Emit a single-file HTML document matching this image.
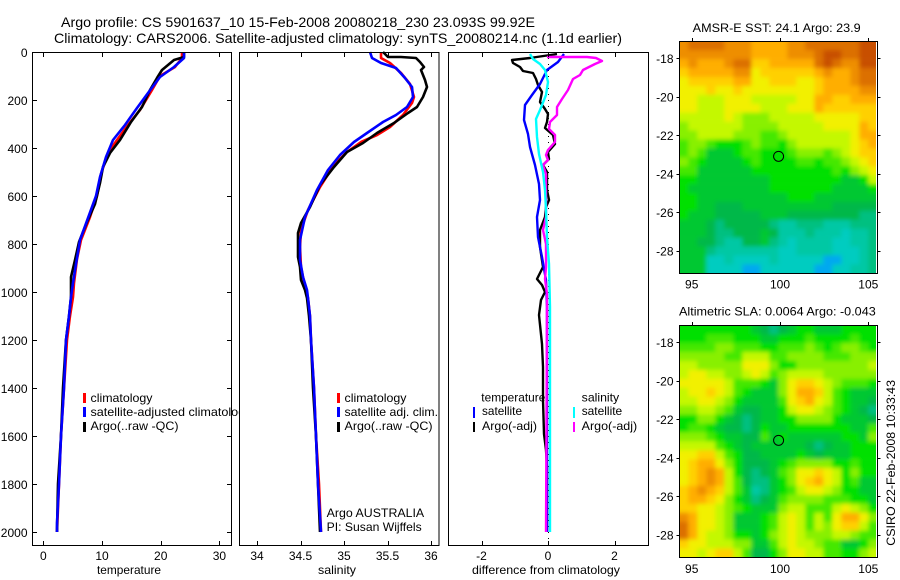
<!DOCTYPE html>
<html lang="en">
<head>
<meta charset="utf-8">
<title>Argo profile 5901637_10</title>
<style>
html,body{margin:0;padding:0;background:#fff;}
svg{display:block;font-family:"Liberation Sans",Arial,sans-serif;font-size:12px;fill:#000;}
text{fill:#000;}
</style>
</head>
<body>
<svg id="chart" xmlns="http://www.w3.org/2000/svg" width="900" height="580" viewBox="0 0 900 580">
  <defs>
    <filter id="soft" x="-5%" y="-5%" width="110%" height="110%"><feGaussianBlur stdDeviation="2.2"/></filter>
    <clipPath id="clip-sst"><rect x="679.5" y="41.5" width="196.5" height="231.5"/></clipPath>
    <clipPath id="clip-sla"><rect x="679.5" y="325.5" width="196.5" height="231.5"/></clipPath>
  </defs>
  <rect width="900" height="580" fill="#fff"/>

  <text x="61" y="27" font-size="14" textLength="474" lengthAdjust="spacingAndGlyphs">Argo profile: CS 5901637_10 15-Feb-2008 20080218_230 23.093S 99.92E</text>
  <text x="54" y="43" font-size="14" textLength="568" lengthAdjust="spacingAndGlyphs">Climatology: CARS2006. Satellite-adjusted climatology: synTS_20080214.nc (1.1d earlier)</text>

  <g id="panel-temp">
    <rect x="32.5" y="52.5" width="199" height="493" fill="#fff" stroke="none"/>
    <g id="temp-marks"></g>
    <rect x="83" y="393" width="3" height="10" fill="#f00"/>
    <rect x="83" y="407" width="3" height="10" fill="#00f"/>
    <rect x="83" y="422" width="3" height="10" fill="#000"/>
    <text x="90.5" y="402" textLength="62" lengthAdjust="spacingAndGlyphs">climatology</text>
    <text x="90.5" y="416" textLength="161" lengthAdjust="spacingAndGlyphs">satellite-adjusted climatology</text>
    <text x="90.5" y="430" textLength="88" lengthAdjust="spacingAndGlyphs">Argo(..raw -QC)</text>
    <rect x="32.5" y="52.5" width="199" height="493" fill="none" stroke="#000" shape-rendering="crispEdges"/>
    <text x="129" y="574" text-anchor="middle" textLength="64" lengthAdjust="spacingAndGlyphs">temperature</text>
  </g>

  <g id="panel-sal">
    <rect x="239" y="46" width="209" height="500" fill="#fff"/>
    <g id="sal-marks"></g>
    <rect x="337" y="393" width="3" height="10" fill="#f00"/>
    <rect x="337" y="407" width="3" height="10" fill="#00f"/>
    <rect x="337" y="422" width="3" height="10" fill="#000"/>
    <text x="344.5" y="402" textLength="62" lengthAdjust="spacingAndGlyphs">climatology</text>
    <text x="344.5" y="416" textLength="93.5" lengthAdjust="spacingAndGlyphs">satellite adj. clim.</text>
    <text x="344.5" y="430" textLength="88" lengthAdjust="spacingAndGlyphs">Argo(..raw -QC)</text>
    <text x="326.7" y="517" textLength="97.5" lengthAdjust="spacingAndGlyphs">Argo AUSTRALIA</text>
    <text x="326.7" y="531" textLength="95" lengthAdjust="spacingAndGlyphs">PI: Susan Wijffels</text>
    <rect x="239.5" y="52.5" width="199.5" height="493" fill="none" stroke="#000" shape-rendering="crispEdges"/>
    <text x="337" y="574" text-anchor="middle" textLength="38" lengthAdjust="spacingAndGlyphs">salinity</text>
  </g>

  <g id="panel-diff">
    <g id="diff-marks"></g>
    <text x="481.3" y="401.7" textLength="64" lengthAdjust="spacingAndGlyphs">temperature</text>
    <text x="482" y="415" textLength="40" lengthAdjust="spacingAndGlyphs">satellite</text>
    <text x="482" y="430" textLength="55" lengthAdjust="spacingAndGlyphs">Argo(-adj)</text>
    <rect x="473" y="407" width="2" height="11" fill="#00f"/>
    <rect x="473" y="422" width="2" height="10" fill="#000"/>
    <text x="581.7" y="401.7" textLength="37.5" lengthAdjust="spacingAndGlyphs">salinity</text>
    <text x="581.7" y="415" textLength="40.5" lengthAdjust="spacingAndGlyphs">satellite</text>
    <text x="581.7" y="430" textLength="55.5" lengthAdjust="spacingAndGlyphs">Argo(-adj)</text>
    <rect x="573" y="407" width="2" height="11" fill="#0ff"/>
    <rect x="573" y="422" width="2" height="10" fill="#f0f"/>
    <rect x="448.5" y="52.5" width="200" height="493" fill="none" stroke="#000" shape-rendering="crispEdges"/>
    <text x="546" y="574" text-anchor="middle" textLength="148" lengthAdjust="spacingAndGlyphs">difference from climatology</text>
  </g>

  <text x="692.7" y="32" textLength="168" lengthAdjust="spacingAndGlyphs">AMSR-E SST: 24.1 Argo: 23.9</text>
  <g clip-path="url(#clip-sst)"><g id="sst-cells" filter="url(#soft)"></g></g>
  <g id="sst-axes"></g>

  <text x="679" y="315.7" textLength="196.7" lengthAdjust="spacingAndGlyphs">Altimetric SLA: 0.0064 Argo: -0.043</text>
  <g clip-path="url(#clip-sla)"><g id="sla-cells" filter="url(#soft)"></g></g>
  <g id="sla-axes"></g>

  <text transform="translate(895,545.7) rotate(-90)" textLength="165.7" lengthAdjust="spacingAndGlyphs">CSIRO 22-Feb-2008 10:33:43</text>
</svg>

<script>
// ---- tick labels ----
const depthTicks = [0,200,400,600,800,1000,1200,1400,1600,1800,2000];
const tempTicks = [0,10,20,30];
const salTicks = [34,34.5,35,35.5,36];
const diffTicks = [-2,0,2];
const lonTicks = [95,100,105];
const latTicks = [18,20,22,24,26,28];

// ---- temperature profiles ----
const tempClimDepth = [0,25,60,100,157,240,303,365,420,505,600,685,780,860,960,1020,1100,1200,1400,1600,1800,2000];
const tempClimValues = [23.7,23.7,22.4,19.9,18.5,16.5,14.5,12.5,11.1,9.9,9.1,8,6.5,5.7,5.2,5,4.5,4,3.6,3.1,2.7,2.4];
const tempArgoDepth = [0,20,30,52,75,108,157,226,290,365,420,476,545,630,705,790,865,935,960,1020,1100,1200,1400,1600,1800,2000];
const tempArgoValues = [24,23.9,22.2,21.3,20.2,19.3,18.2,16.8,15,13,11.4,10.2,9.7,8.8,7.5,6.1,5.4,4.7,4.7,4.7,4.3,3.8,3.4,2.95,2.55,2.3];
const tempSatDepth = [0,25,60,104,170,233,303,365,435,518,600,692,782,880,960,1020,1100,1200,1400,1600,1800,1960,2000];
const tempSatValues = [24,24,22.2,19.8,17.9,15.9,13.9,11.9,10.7,9.7,9,7.7,6.2,5.5,5,4.8,4.4,3.95,3.6,3.07,2.67,2.4,2.3];

// ---- salinity profiles ----
const salClimDepth = [0,25,46,88,130,185,213,261,310,344,372,414,470,560,657,740,810,893,976,1025,1100,1200,1400,1600,1800,2000];
const salClimValues = [35.425,35.43,35.53,35.66,35.76,35.8,35.78,35.68,35.53,35.38,35.2,35.03,34.88,34.72,34.59,34.51,34.49,34.51,34.55,34.59,34.61,34.625,34.65,34.675,34.71,34.73];
const salArgoDepth = [0,20,20,25,39,60,74,115,143,185,226,254,296,337,379,414,476,553,643,712,754,851,893,948,990,1025,1100,1200,1400,1600,1800,2000];
const salArgoValues = [35.45,35.51,35.65,35.83,35.87,35.92,35.89,35.93,35.95,35.91,35.84,35.74,35.57,35.38,35.22,35.03,34.88,34.72,34.61,34.51,34.475,34.475,34.49,34.51,34.55,34.58,34.6,34.62,34.645,34.675,34.7,34.725];
const salSatDepth = [0,25,46,67,108,143,185,226,261,289,337,372,428,490,574,685,782,865,935,990,1025,1100,1200,1400,1600,1800,2000];
const salSatValues = [35.3,35.32,35.43,35.6,35.7,35.78,35.79,35.72,35.6,35.45,35.26,35.11,34.95,34.82,34.69,34.55,34.49,34.49,34.53,34.57,34.59,34.61,34.625,34.65,34.68,34.705,34.73];

// ---- difference profiles ----
const diffTempArgoDepth = [8,22,33,44,61,78,86,110,137,165,207,235,255,290,314,346,380,415,443,471,499,575,617,644,686,742,811,894,943,971,999,1033,1096,1214,1311,1450,1589,1658,1728,2000];
const diffTempArgoValues = [0.26,-0.54,-1.09,-1.06,-0.84,-0.76,-0.44,-0.36,-0.29,-0.19,-0.24,-0.09,0.01,-0.04,-0.09,0.16,0.21,0.01,0.04,-0.16,-0.04,-0.04,0.04,-0.06,-0.09,-0.24,-0.24,-0.14,-0.34,-0.19,-0.09,-0.21,-0.27,-0.19,-0.14,-0.14,-0.11,-0.06,-0.04,-0.04];
const diffTempSatDepth = [5,40,75,130,179,221,283,339,394,471,547,617,686,769,853,950,1061,2000];
const diffTempSatValues = [0.48,0.31,-0.04,-0.24,-0.49,-0.69,-0.72,-0.59,-0.54,-0.39,-0.26,-0.24,-0.34,-0.29,-0.19,-0.06,-0.04,-0.04];
const diffSalArgoDepth = [20,20,24,36,50,75,96,110,158,193,228,262,290,318,346,374,408,429,450,471,506,617,686,742,797,894,943,1006,1061,2000];
const diffSalArgoValues = [-0.02,1.16,1.45,1.63,1.41,1.06,0.96,0.76,0.61,0.41,0.28,0.26,0.06,0.02,0.21,0.21,0.01,-0.06,0.01,-0.14,-0.06,-0.06,-0.06,-0.14,-0.06,-0.06,-0.1,-0.04,-0.04,-0.05];
const diffSalSatDepth = [5,26,47,75,124,179,242,276,353,422,499,575,658,769,881,1061,1100,2000];
const diffSalSatValues = [-0.54,-0.44,-0.24,-0.09,-0.01,-0.06,-0.24,-0.36,-0.32,-0.26,-0.14,-0.09,-0.06,-0.02,0.03,0.06,0.05,0.05];

// ---- colour scale levels for the two maps ----
const levelColors = ['#c85000','#dc7000','#ee8e00','#ffae00','#ffd000','#f2f000','#c4f800','#88f000','#44e800','#00e000','#00c830','#00b848','#00c080','#00c8a4','#00ccc0','#00a8f0'];

// ---- SST map levels, north to south ----
const sstLevels = [
[2,1,1,1,1,2,2,2,3,3,3,3,2,2,1,1,1,1,1,1,0,0],
[2,2,2,2,2,2,2,2,3,3,3,3,2,2,2,1,0,0,1,1,0,0],
[3,2,3,3,3,2,1,1,4,4,3,3,3,3,3,1,0,1,2,2,0,0],
[4,3,3,3,3,3,2,2,5,4,4,4,4,4,4,3,2,3,3,2,1,1],
[5,4,4,4,4,4,3,3,5,5,4,4,4,5,5,4,3,3,3,2,1,1],
[5,5,5,4,5,5,4,5,5,5,5,5,5,5,5,4,3,3,3,3,2,2],
[5,5,6,6,6,5,5,5,6,6,6,6,6,5,5,3,3,4,4,3,3,3],
[5,5,6,6,6,5,5,5,5,6,6,6,5,5,5,3,4,4,4,4,4,4],
[6,6,6,6,6,5,6,7,7,7,6,6,6,6,6,5,5,5,5,5,4,4],
[7,6,6,6,6,6,6,7,7,7,7,6,6,6,6,6,5,5,5,5,3,4],
[7,7,6,6,6,6,7,7,7,8,8,7,6,6,6,6,6,6,6,5,3,3],
[8,7,7,8,9,9,9,8,7,8,8,9,7,6,6,6,6,6,6,5,4,3],
[8,7,8,10,10,10,9,8,8,9,9,9,8,7,7,7,8,7,6,5,4,4],
[7,8,9,10,10,10,10,9,8,9,9,9,9,8,8,9,8,8,7,6,5,4],
[8,8,10,10,10,10,10,10,9,9,9,9,9,9,9,9,9,8,9,7,6,5],
[9,9,10,10,10,10,10,10,10,10,9,9,9,9,9,9,9,9,10,10,9,6],
[9,10,10,10,10,10,10,10,10,10,9,9,9,9,9,9,9,10,10,10,10,9],
[9,9,10,10,10,10,10,10,10,10,10,10,9,9,9,10,10,10,10,10,10,10],
[9,9,10,10,11,11,11,10,10,10,10,10,10,10,10,10,10,11,11,11,11,11],
[9,10,10,10,11,11,11,11,11,10,10,10,11,11,11,11,11,11,11,11,12,12],
[10,10,10,11,12,11,11,11,11,11,12,13,13,12,12,12,13,13,13,12,12,12],
[10,10,10,11,12,12,11,11,11,10,11,13,13,13,12,13,13,13,14,13,13,12],
[10,10,11,11,12,13,13,11,11,10,12,13,14,13,13,13,13,14,14,13,13,12],
[10,10,10,12,13,13,13,13,13,13,13,14,14,13,13,13,13,14,14,14,13,12],
[10,10,10,14,14,13,14,14,14,14,13,14,14,14,14,14,15,15,14,14,13,12],
[10,10,10,14,14,14,14,15,15,14,14,14,14,14,14,15,15,14,14,13,13,12]
];

// ---- SLA map levels, north to south ----
const slaLevels = [
[9,9,9,9,9,9,9,9,10,11,12,11,10,9,9,10,10,10,9,9,9,9],
[9,9,9,8,8,8,9,9,9,10,10,9,9,9,8,9,9,9,9,8,9,9],
[8,8,8,8,7,7,8,8,8,9,9,8,8,8,7,8,9,8,7,7,8,9],
[7,7,7,7,7,8,8,6,6,6,8,8,7,7,7,7,8,8,8,7,7,7],
[6,6,7,7,7,7,7,5,5,5,7,9,9,7,7,7,7,7,7,7,7,6],
[6,5,5,6,6,7,7,6,5,6,8,7,6,6,6,6,7,7,7,7,7,7],
[5,5,5,5,5,6,8,8,8,9,10,7,5,4,4,5,6,7,8,8,8,9],
[6,5,5,4,5,6,8,9,10,10,10,7,5,3,3,4,6,8,9,10,10,10],
[6,6,5,5,6,7,9,10,10,10,10,8,5,4,3,5,6,8,9,10,10,11],
[7,7,6,6,7,8,10,11,11,10,10,9,6,5,5,6,7,8,9,10,11,12],
[9,9,7,7,9,10,11,12,11,10,10,9,9,7,7,7,7,9,10,10,10,11],
[9,8,8,9,10,11,11,12,11,9,10,10,9,9,9,9,9,9,9,10,10,8],
[7,7,7,8,9,10,10,11,11,8,10,9,10,10,10,10,10,10,9,9,10,7],
[6,6,6,6,8,9,10,11,10,10,10,10,10,10,11,12,11,10,10,9,9,9],
[5,5,4,4,6,8,9,11,11,10,10,10,10,9,10,11,10,10,10,9,9,9],
[5,4,3,3,5,7,9,11,11,11,10,9,8,7,7,7,7,9,9,8,9,9],
[5,4,3,2,3,6,9,11,12,11,10,8,7,5,5,4,5,6,9,7,9,9],
[5,4,3,2,3,6,8,11,12,12,10,9,7,5,4,3,5,6,9,8,10,10],
[4,3,2,3,4,6,8,10,13,12,10,9,8,6,5,5,6,7,9,9,10,10],
[4,3,3,4,5,7,9,10,12,11,10,8,7,7,7,7,8,8,8,9,9,10],
[4,4,5,5,6,7,8,9,10,10,10,7,6,6,8,8,8,6,5,6,7,9],
[2,3,5,5,6,7,10,10,10,9,8,6,5,6,8,6,8,5,3,3,5,7],
[1,3,5,5,6,7,10,10,10,9,8,6,5,6,8,6,7,5,4,4,6,8],
[1,3,5,6,6,7,9,9,10,9,7,6,5,6,7,7,7,6,6,7,8,8],
[4,5,5,6,6,6,7,7,10,10,8,6,5,6,6,7,8,8,10,10,9,7],
[5,5,6,5,4,4,6,8,11,11,9,7,5,5,6,6,8,8,9,9,7,6]
];

// ---- profile location ----
const profileLon = [99.92];
const profileLat = [23.093];

const NS = 'http://www.w3.org/2000/svg';

// axis functions
function yDepth(d){ return 52.3 + d * 0.24; }
function xTemp(v){ return 43.3 + v * 5.87; }
function xSal(v){ return 257 + (v - 34) * 87; }
function xDiff(v){ return 548 + v * 33.25; }
function xLon(l){ return 691.7 + (l - 95) * 17.66; }
function ySstLat(l){ return 58.3 + (l - 18) * 19.25; }
function ySlaLat(l){ return 342.3 + (l - 18) * 19.25; }

function addLine(parent, x1, y1, x2, y2){
  const el = document.createElementNS(NS, 'line');
  el.setAttribute('x1', x1);
  el.setAttribute('y1', y1);
  el.setAttribute('x2', x2);
  el.setAttribute('y2', y2);
  el.setAttribute('stroke', '#000');
  el.setAttribute('shape-rendering', 'crispEdges');
  
  
  parent.appendChild(el);
}

function addLabel(parent, x, y, str, anchor){
  const el = document.createElementNS(NS, 'text');
  el.setAttribute('x', x);
  el.setAttribute('y', y);
  el.setAttribute('text-anchor', anchor);
  el.textContent = str;
  
  
  parent.appendChild(el);
}

function addProfile(parent, depths, values, xFn, color, width){
  const el = document.createElementNS(NS, 'polyline');
  const pts = depths.map((d, i) => Math.round(xFn(values[i])) + ',' + Math.round(yDepth(d)));
  el.setAttribute('points', pts.join(' '));
  el.setAttribute('fill', 'none');
  el.setAttribute('stroke', color);
  el.setAttribute('stroke-width', width);
  el.setAttribute('stroke-linejoin', 'round');
  
  
  parent.appendChild(el);
}

function drawXAxis(parent, ticks, xFn){
  ticks.forEach(t => {
    const x = Math.round(xFn(t)) + 0.5;
    addLine(parent, x, 52.5, x, 57);
    addLine(parent, x, 545.5, x, 541);
    addLabel(parent, xFn(t), 560, String(t), 'middle');
  });
}

// temperature panel
const tempG = document.getElementById('temp-marks');
addProfile(tempG, tempClimDepth, tempClimValues, xTemp, '#f00', 2.6);
addProfile(tempG, tempArgoDepth, tempArgoValues, xTemp, '#000', 2.6);
addProfile(tempG, tempSatDepth, tempSatValues, xTemp, '#00f', 2.6);
drawXAxis(tempG, tempTicks, xTemp);
depthTicks.forEach(d => {
  const y = Math.round(yDepth(d)) + 0.5;
  addLine(tempG, 32.5, y, 37, y);
  addLine(tempG, 231.5, y, 227, y);
  addLabel(tempG, 27.5, yDepth(d) + 4.5, String(d), 'end');
});

// salinity panel
const salG = document.getElementById('sal-marks');
addProfile(salG, salClimDepth, salClimValues, xSal, '#f00', 2.6);
addProfile(salG, salArgoDepth, salArgoValues, xSal, '#000', 2.6);
addProfile(salG, salSatDepth, salSatValues, xSal, '#00f', 2.6);
drawXAxis(salG, salTicks, xSal);

// difference panel
const diffG = document.getElementById('diff-marks');
for (let d = 0; d <= 2050; d += 25) {
  const dot = document.createElementNS(NS, 'rect');
  dot.setAttribute('x', Math.round(xDiff(0)));
  dot.setAttribute('y', Math.round(yDepth(d)));
  dot.setAttribute('width', 1);
  dot.setAttribute('height', 1);
  dot.setAttribute('fill', '#000');
  
  
  diffG.appendChild(dot);
}
addProfile(diffG, diffTempArgoDepth, diffTempArgoValues, xDiff, '#000', 2.4);
addProfile(diffG, diffTempSatDepth, diffTempSatValues, xDiff, '#00f', 2.4);
addProfile(diffG, diffSalArgoDepth, diffSalArgoValues, xDiff, '#f0f', 2.4);
addProfile(diffG, diffSalSatDepth, diffSalSatValues, xDiff, '#0ff', 2.4);
drawXAxis(diffG, diffTicks, xDiff);

// maps
function drawCells(groupId, levels, top){
  const g = document.getElementById(groupId);
  const nRows = levels.length;
  const nCols = levels[0].length;
  const cw = 198 / nCols;
  const ch = 232 / nRows;
  levels.forEach((row, r) => {
    row.forEach((lvl, c) => {
      const pad = 10;
      const x0 = 679.3 + c * cw - (c === 0 ? pad : 0);
      const x1 = 679.3 + (c + 1) * cw + (c === nCols - 1 ? pad : 0);
      const y0 = top + r * ch - (r === 0 ? pad : 0);
      const y1 = top + (r + 1) * ch + (r === nRows - 1 ? pad : 0);
      const el = document.createElementNS(NS, 'rect');
      el.setAttribute('x', x0.toFixed(2));
      el.setAttribute('y', y0.toFixed(2));
      el.setAttribute('width', (x1 - x0 + 0.3).toFixed(2));
      el.setAttribute('height', (y1 - y0 + 0.3).toFixed(2));
      el.setAttribute('fill', levelColors[lvl]);
      
      
      g.appendChild(el);
    });
  });
}

function drawMapAxes(groupId, top, yLat, labelY){
  const g = document.getElementById(groupId);
  const frame = document.createElementNS(NS, 'rect');
  frame.setAttribute('x', 679.5);
  frame.setAttribute('y', top + 0.5);
  frame.setAttribute('width', 198);
  frame.setAttribute('height', 232);
  frame.setAttribute('fill', 'none');
  frame.setAttribute('stroke', '#000');
  frame.setAttribute('shape-rendering', 'crispEdges');
  
  
  g.appendChild(frame);
  lonTicks.forEach(l => {
    const x = Math.round(xLon(l)) + 0.5;
    addLine(g, x, top + 0.5, x, top - 3);
    addLabel(g, xLon(l), labelY, String(l), 'middle');
  });
  latTicks.forEach(l => {
    const y = Math.round(yLat(l)) + 0.5;
    addLine(g, 679.5, y, 676.5, y);
    addLine(g, 877.5, y, 880.5, y);
    addLabel(g, 673.5, yLat(l) + 4.5, '-' + l, 'end');
  });
  const marker = document.createElementNS(NS, 'circle');
  marker.setAttribute('cx', xLon(profileLon[0]));
  marker.setAttribute('cy', yLat(profileLat[0]));
  marker.setAttribute('r', 5);
  marker.setAttribute('fill', 'none');
  marker.setAttribute('stroke', '#000');
  
  
  g.appendChild(marker);
}

drawCells('sst-cells', sstLevels, 41.3);
drawCells('sla-cells', slaLevels, 325.3);
drawMapAxes('sst-axes', 41, ySstLat, 288.7);
drawMapAxes('sla-axes', 325, ySlaLat, 573);
</script>
</body>
</html>
